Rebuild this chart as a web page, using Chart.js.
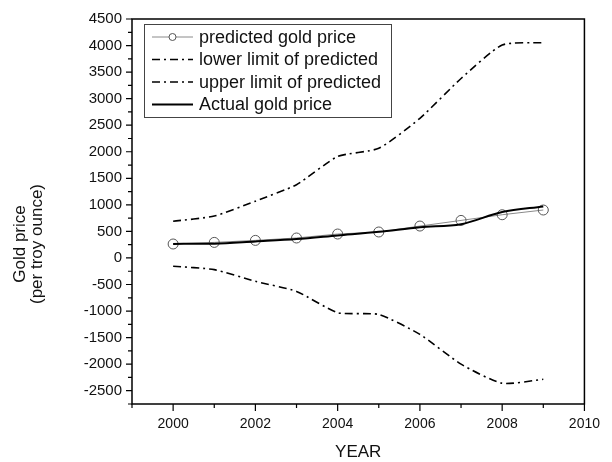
<!DOCTYPE html>
<html>
<head>
<meta charset="utf-8">
<script src="https://cdn.jsdelivr.net/npm/chart.js@4.4.1/dist/chart.umd.min.js"></script>
<style>
  html, body { margin: 0; padding: 0; background: #fff; }
  #chart { display: block; }
</style>
</head>
<body>
<canvas id="chart" width="612" height="462"></canvas>
<script>
// values
const years = [2000, 2001, 2002, 2003, 2004, 2005, 2006, 2007, 2008, 2009];
const predicted = [263, 293, 331, 376, 451, 489, 601, 707, 814, 903];
const lowerLimit = [-155, -220, -440, -630, -1030, -1065, -1440, -2000, -2360, -2285];
const upperLimit = [690, 790, 1070, 1380, 1910, 2065, 2630, 3380, 4010, 4055];
const actual = [265, 270, 312, 357, 425, 492, 580, 635, 865, 970];

const xTicks = [2000, 2002, 2004, 2006, 2008, 2010];
const xMinor = [1999, 2001, 2003, 2005, 2007, 2009];
const yTicks = [-2500, -2000, -1500, -1000, -500, 0, 500, 1000, 1500, 2000, 2500, 3000, 3500, 4000, 4500];
const yMinor = [-2750, -2250, -1750, -1250, -750, -250, 250, 750, 1250, 1750, 2250, 2750, 3250, 3750, 4250];

const FONT = "'Liberation Sans', Arial, sans-serif";
const toPoints = (vals) => years.map((y, i) => ({x: y, y: vals[i]}));

// frame, tick marks, axis titles and the boxed legend
const decorations = {
    id: 'decorations',
    afterDraw(chart) {
        const ctx = chart.ctx;
        const area = chart.chartArea;
        const xs = chart.scales.x, ys = chart.scales.y;
        ctx.save();
        ctx.strokeStyle = '#000';
        ctx.lineWidth = 1.5;
        ctx.strokeRect(area.left, area.top, area.right - area.left, area.bottom - area.top);

        ctx.lineWidth = 1.2;
        ctx.beginPath();
        xTicks.forEach(v => { const px = xs.getPixelForValue(v); ctx.moveTo(px, area.bottom); ctx.lineTo(px, area.bottom + 7); });
        xMinor.forEach(v => { const px = xs.getPixelForValue(v); ctx.moveTo(px, area.bottom); ctx.lineTo(px, area.bottom + 4); });
        yTicks.forEach(v => { const py = ys.getPixelForValue(v); ctx.moveTo(area.left, py); ctx.lineTo(area.left - 6, py); });
        yMinor.forEach(v => { const py = ys.getPixelForValue(v); ctx.moveTo(area.left, py); ctx.lineTo(area.left - 4, py); });
        ctx.stroke();

        // axis titles
        ctx.fillStyle = '#111';
        ctx.font = '17px ' + FONT;
        ctx.textAlign = 'center';
        ctx.textBaseline = 'middle';
        ctx.fillText('YEAR', (area.left + area.right) / 2, 452);
        ctx.save();
        ctx.translate(20, 244);
        ctx.rotate(-Math.PI / 2);
        ctx.fillText('Gold price', 0, 0);
        ctx.restore();
        ctx.save();
        ctx.translate(37, 244);
        ctx.rotate(-Math.PI / 2);
        ctx.fillText('(per troy ounce)', 0, 0);
        ctx.restore();

        // legend
        const box = {x: 144, y: 24, w: 247, h: 93};
        ctx.fillStyle = '#fff';
        ctx.fillRect(box.x, box.y, box.w, box.h);
        ctx.strokeStyle = '#444';
        ctx.lineWidth = 1;
        ctx.strokeRect(box.x + 0.5, box.y + 0.5, box.w, box.h);
        const rows = [37, 59.5, 82, 104.5];
        ctx.font = '18px ' + FONT;
        ctx.textAlign = 'left';
        chart.data.datasets.forEach((ds, i) => {
            const cy = rows[i];
            ctx.save();
            ctx.strokeStyle = ds.borderColor;
            ctx.lineWidth = ds.borderWidth;
            ctx.setLineDash(ds.borderDash || []);
            ctx.beginPath();
            ctx.moveTo(152, cy);
            ctx.lineTo(193, cy);
            ctx.stroke();
            ctx.setLineDash([]);
            if (ds.pointRadius > 0) {
                ctx.fillStyle = '#fff';
                ctx.beginPath();
                ctx.arc(172.5, cy, 3.5, 0, Math.PI * 2);
                ctx.fill();
                ctx.strokeStyle = ds.pointBorderColor;
                ctx.lineWidth = 1;
                ctx.stroke();
            }
            ctx.restore();
            ctx.fillStyle = '#111';
            ctx.fillText(ds.label, 199, cy + 1);
        });
        ctx.restore();
    }
};

new Chart(document.getElementById('chart').getContext('2d'), {
    type: 'line',
    data: {
        datasets: [{
            label: 'predicted gold price',
            data: toPoints(predicted),
            borderColor: '#8a8a8a',
            borderWidth: 1,
            pointRadius: 5,
            pointBorderColor: '#555',
            pointBackgroundColor: 'rgba(0,0,0,0)',
            pointBorderWidth: 1,
            tension: 0,
            order: 1
        }, {
            label: 'lower limit of predicted',
            data: toPoints(lowerLimit),
            borderColor: '#000',
            borderWidth: 1.6,
            borderDash: [8, 4, 2, 4],
            pointRadius: 0,
            tension: 0.2,
            order: 2
        }, {
            label: 'upper limit of predicted',
            data: toPoints(upperLimit),
            borderColor: '#000',
            borderWidth: 1.6,
            borderDash: [8, 4, 2, 4],
            pointRadius: 0,
            tension: 0.2,
            order: 2
        }, {
            label: 'Actual gold price',
            data: toPoints(actual),
            borderColor: '#000',
            borderWidth: 2,
            pointRadius: 0,
            cubicInterpolationMode: 'monotone',
            order: 0
        }]
    },
    options: {
        responsive: false,
        animation: false,
        layout: { padding: { top: 19, right: 16, left: 0, bottom: 0 } },
        plugins: { legend: { display: false }, tooltip: { enabled: false } },
        scales: {
            x: {
                type: 'linear',
                min: 1999,
                max: 2010,
                afterBuildTicks: (scale) => { scale.ticks = xTicks.map(v => ({value: v})); },
                afterFit: (scale) => { scale.height = 58; },
                grid: { display: false, drawTicks: false },
                border: { display: false },
                ticks: {
                    padding: 12,
                    color: '#111',
                    maxRotation: 0,
                    font: { family: FONT, size: 14 },
                    callback: (v) => String(v)
                }
            },
            y: {
                min: -2750,
                max: 4500,
                afterBuildTicks: (scale) => { scale.ticks = yTicks.map(v => ({value: v})); },
                afterFit: (scale) => { scale.width = 132; },
                grid: { display: false, drawTicks: false },
                border: { display: false },
                ticks: {
                    padding: 10,
                    color: '#111',
                    font: { family: FONT, size: 15 },
                    callback: (v) => String(v)
                }
            }
        }
    },
    plugins: [decorations]
});
</script>
</body>
</html>
